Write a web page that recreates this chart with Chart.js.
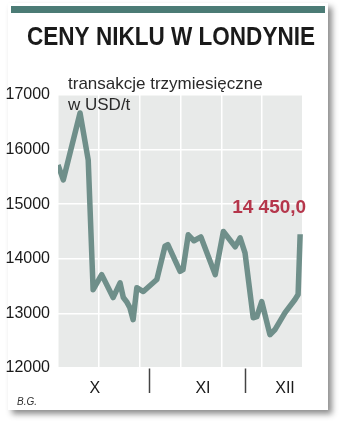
<!DOCTYPE html>
<html>
<head>
<meta charset="utf-8">
<script src="https://cdn.jsdelivr.net/npm/chart.js@4/dist/chart.umd.min.js"></script>
<style>
html,body{margin:0;padding:0;background:#fff;}
#wrap{width:350px;height:434px;position:relative;}
</style>
</head>
<body>
<div id="wrap"><canvas id="c" width="350" height="434"></canvas></div>
<script>
// ---- data ----
const dayIndex = [0, 1.3, 5.4, 7.4, 8.6, 10.7, 13.5, 15.2, 16.0, 16.8, 17.6, 18.4, 19.3, 20.9, 24.2, 26.2, 26.9, 29.9, 30.6, 31.9, 33.3, 35.0, 38.5, 40.5, 43.4, 44.6, 45.8, 47.8, 48.7, 49.9, 51.9, 53.1, 55.6, 58.0, 58.8, 59.3];
const prices   = [15720, 15446, 16670, 15810, 13435, 13710, 13290, 13560, 13290, 13215, 13105, 12885, 13470, 13400, 13620, 14230, 14260, 13770, 13800, 14440, 14330, 14400, 13710, 14500, 14220, 14385, 14110, 12920, 12940, 13215, 12610, 12700, 13015, 13250, 13345, 14450];
const yTicks = [12000, 13000, 14000, 15000, 16000, 17000];
const monthLabels  = ['X', 'XI', 'XII'];
const monthCenters = [9, 35.5, 55.6];
const monthBounds  = [22.5, 45.8];
const lastValueLabel = '14 450,0';
const titleText = 'CENY NIKLU W LONDYNIE';
const subtitle1 = 'transakcje trzymiesięczne';
const subtitle2 = 'w USD/t';
const author = 'B.G.';

const points = dayIndex.map((d, i) => ({x: d, y: prices[i]}));

const decor = {
  id: 'decor',
  beforeDraw(chart) {
    const ctx = chart.ctx;
    const a = chart.chartArea;
    ctx.save();
    ctx.shadowColor = 'rgba(0,0,0,0.45)';
    ctx.shadowBlur = 6;
    ctx.shadowOffsetX = 4;
    ctx.shadowOffsetY = 4;
    ctx.fillStyle = '#ffffff';
    ctx.fillRect(8, 3, 320, 407);
    ctx.restore();
    ctx.save();
    ctx.fillStyle = '#4b7b75';
    ctx.fillRect(11, 6, 314, 7);
    ctx.fillStyle = '#e8eae9';
    ctx.fillRect(a.left, a.top, a.right - a.left, a.bottom - a.top);
    ctx.restore();
  },
  afterDraw(chart) {
    const ctx = chart.ctx;
    const xs = chart.scales.x, ys = chart.scales.y;
    ctx.save();
    ctx.fillStyle = '#1a1a1a';
    ctx.font = 'bold 25px "Liberation Sans Narrow", "Liberation Sans", sans-serif';
    ctx.textBaseline = 'alphabetic';
    const w = ctx.measureText(titleText).width;
    const target = 288;
    ctx.save();
    ctx.translate(27, 45);
    ctx.scale(target / w, 1);
    ctx.fillText(titleText, 0, 0);
    ctx.restore();
    ctx.fillStyle = '#2a2a2a';
    ctx.font = '17px "Liberation Sans", sans-serif';
    ctx.fillText(subtitle1, 68, 89);
    ctx.fillText(subtitle2, 68, 110);
    ctx.fillStyle = '#b5364b';
    ctx.font = 'bold 19px "Liberation Sans", sans-serif';
    ctx.textAlign = 'right';
    const lx = xs.getPixelForValue(dayIndex[dayIndex.length - 1]);
    const ly = ys.getPixelForValue(prices[prices.length - 1]);
    ctx.fillText(lastValueLabel, lx + 6, ly - 21);
    ctx.textAlign = 'left';
    ctx.fillStyle = '#333';
    ctx.font = 'italic 10px "Liberation Sans", sans-serif';
    ctx.fillText(author, 17, 405);
    ctx.restore();
  }
};

new Chart(document.getElementById('c'), {
  type: 'line',
  data: {
    datasets: [{
      data: points,
      borderColor: '#6f8f8a',
      borderWidth: 5.5,
      pointRadius: 0,
      tension: 0,
      borderJoinStyle: 'round',
      borderCapStyle: 'butt',
      xAxisID: 'x',
      yAxisID: 'y'
    }]
  },
  options: {
    responsive: false,
    animation: false,
    events: [],
    layout: {padding: {top: 95, right: 47, left: 0, bottom: 0}},
    plugins: {legend: {display: false}, tooltip: {enabled: false}, title: {display: false}},
    scales: {
      x: {
        type: 'linear', min: 0, max: 60, position: 'bottom',
        ticks: {display: false, stepSize: 10},
        grid: {color: '#ffffff', lineWidth: 1.5, drawTicks: false},
        border: {display: false},
        afterFit(s) { s.height = 0; }
      },
      months: {
        type: 'linear', min: 0, max: 60, position: 'bottom',
        afterBuildTicks(s) {
          s.ticks = monthBounds.concat(monthCenters).map(v => ({value: v}));
        },
        ticks: {
          autoSkip: false,
          maxRotation: 0,
          padding: -14,
          color: '#1a1a1a',
          font: {family: '"Liberation Sans Narrow", "Liberation Sans", sans-serif', size: 16},
          callback(v) {
            const i = monthCenters.indexOf(v);
            return i >= 0 ? monthLabels[i] : '';
          }
        },
        grid: {
          drawOnChartArea: false,
          tickLength: 25,
          tickWidth: 1.5,
          tickColor(ctx) {
            return ctx.tick && monthBounds.includes(ctx.tick.value) ? '#444' : 'rgba(0,0,0,0)';
          }
        },
        border: {display: false},
        afterFit(s) { s.height = 66; }
      },
      y: {
        type: 'linear', min: 12000, max: 17000,
        afterBuildTicks(s) { s.ticks = yTicks.map(v => ({value: v})); },
        ticks: {
          padding: 8,
          color: '#1a1a1a',
          font: {family: '"Liberation Sans Narrow", "Liberation Sans", sans-serif', size: 16},
          callback(v) { return String(v); }
        },
        grid: {color: '#ffffff', lineWidth: 1.5, drawTicks: false},
        border: {display: false},
        afterFit(s) { s.width = 58; }
      }
    }
  },
  plugins: [decor]
});
</script>
</body>
</html>
